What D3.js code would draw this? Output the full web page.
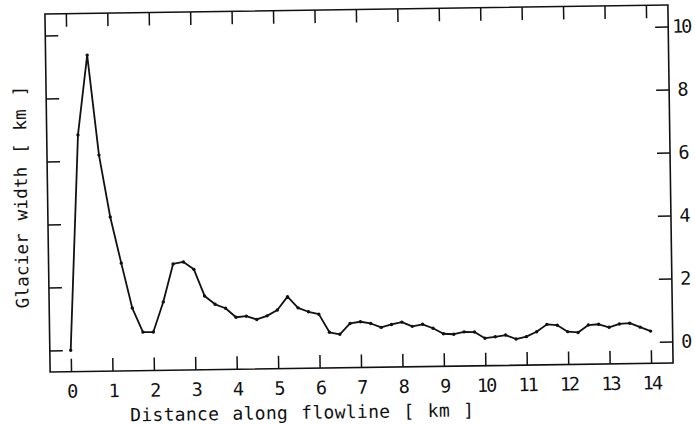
<!DOCTYPE html>
<html>
<head>
<meta charset="utf-8">
<script src="https://cdn.jsdelivr.net/npm/d3@7"></script>
<style>
  html, body { margin: 0; padding: 0; background: #fff; }
  svg { display: block; }
  text { font-family: "DejaVu Sans Mono", monospace; fill: #111; }
</style>
</head>
<body>
<svg id="chart" width="695" height="425"></svg>
<script>
// Distance along the flowline (km)
const distance = [
  0, 0.25, 0.5, 0.75, 1, 1.25, 1.5, 1.75, 2, 2.25, 2.5, 2.75, 3, 3.25, 3.5, 3.75,
  4, 4.25, 4.5, 4.75, 5, 5.25, 5.5, 5.75, 6, 6.25, 6.5, 6.75, 7, 7.25, 7.5, 7.75,
  8, 8.25, 8.5, 8.75, 9, 9.25, 9.5, 9.75, 10, 10.25, 10.5, 10.75, 11, 11.25, 11.5, 11.75,
  12, 12.25, 12.5, 12.75, 13, 13.25, 13.5, 13.75, 14
];

// Glacier width (km) at each distance
const width = [
  0.00, 6.83, 9.36, 6.18, 4.21, 2.74, 1.31, 0.54, 0.54, 1.49, 2.69, 2.75, 2.51, 1.66, 1.39, 1.26,
  0.97, 1.00, 0.89, 1.00, 1.18, 1.60, 1.24, 1.11, 1.03, 0.45, 0.38, 0.72, 0.77, 0.71, 0.58, 0.67,
  0.74, 0.60, 0.66, 0.53, 0.35, 0.33, 0.40, 0.39, 0.19, 0.23, 0.28, 0.15, 0.22, 0.37, 0.60, 0.57,
  0.36, 0.33, 0.56, 0.58, 0.48, 0.58, 0.60, 0.47, 0.34
];

const xTicks = [0, 1, 2, 3, 4, 5, 6, 7, 8, 9, 10, 11, 12, 13, 14];
const yTicks = [0, 2, 4, 6, 8, 10];

const xLabel = "Distance along flowline [ km ]";
const yLabel = "Glacier width [ km ]";

const frame = { left: 47.5, right: 670.5, top: 9.5, bottom: 367.5 };
const tick = 13;

const svg = d3.select("#chart");
// the whole sheet sits at a slight tilt
const g = svg.append("g").attr("transform", "rotate(-0.83, 359, 188)");

const x = d3.scaleLinear().domain([0, 14]).range([68.4, 648.5]);
const y = d3.scaleLinear().domain([0, 10]).range([346, 31]);

// frame
g.append("rect")
  .attr("x", frame.left).attr("y", frame.top)
  .attr("width", frame.right - frame.left).attr("height", frame.bottom - frame.top)
  .attr("fill", "none").attr("stroke", "#111").attr("stroke-width", 1.6);

function styleAxis(sel) {
  sel.select(".domain").remove();
  sel.selectAll(".tick line").attr("stroke", "#111").attr("stroke-width", 1.5);
}

// bottom axis with labels, ticks pointing inward
g.append("g")
  .attr("transform", `translate(0,${frame.bottom})`)
  .call(d3.axisBottom(x).tickValues(xTicks).tickSizeInner(-tick).tickSizeOuter(0).tickPadding(13))
  .call(styleAxis)
  .call(s => s.selectAll(".tick text")
    .attr("font-size", 18.5).attr("font-family", "DejaVu Sans Mono")
    .attr("letter-spacing", -2).attr("fill", "#111"));

// top axis, unlabeled
g.append("g")
  .attr("transform", `translate(0,${frame.top})`)
  .call(d3.axisTop(x).tickValues(xTicks).tickSizeInner(-tick).tickSizeOuter(0).tickFormat(""))
  .call(styleAxis);

// left axis, unlabeled
g.append("g")
  .attr("transform", `translate(${frame.left},0)`)
  .call(d3.axisLeft(y).tickValues(yTicks).tickSizeInner(-tick).tickSizeOuter(0).tickFormat(""))
  .call(styleAxis);

// right axis with labels
g.append("g")
  .attr("transform", `translate(${frame.right},0)`)
  .call(d3.axisRight(y).tickValues(yTicks).tickSizeInner(-tick).tickSizeOuter(0).tickPadding(13))
  .call(styleAxis)
  .call(s => s.selectAll(".tick text")
    .attr("font-size", 18.5).attr("font-family", "DejaVu Sans Mono")
    .attr("letter-spacing", -2).attr("text-anchor", "middle").attr("fill", "#111"));

// width profile
const pts = distance.map((d, i) => [d, width[i]]);
const line = d3.line().x(d => x(d[0])).y(d => y(d[1]));

g.append("path")
  .datum(pts)
  .attr("d", line)
  .attr("fill", "none")
  .attr("stroke", "#111")
  .attr("stroke-width", 1.8)
  .attr("stroke-linejoin", "round");

g.append("g").selectAll("circle")
  .data(pts)
  .join("circle")
  .attr("cx", d => x(d[0]))
  .attr("cy", d => y(d[1]))
  .attr("r", 1.7)
  .attr("fill", "#111");

// axis titles
g.append("text")
  .attr("x", 299).attr("y", 418)
  .attr("text-anchor", "middle")
  .attr("font-size", 18)
  .attr("letter-spacing", 0.3)
  .attr("word-spacing", 2)
  .text(xLabel);

g.append("text")
  .attr("transform", "translate(27,192) rotate(-90)")
  .attr("text-anchor", "middle")
  .attr("font-size", 17.5)
  .attr("letter-spacing", 0.2)
  .attr("word-spacing", 2)
  .text(yLabel);
</script>
</body>
</html>
